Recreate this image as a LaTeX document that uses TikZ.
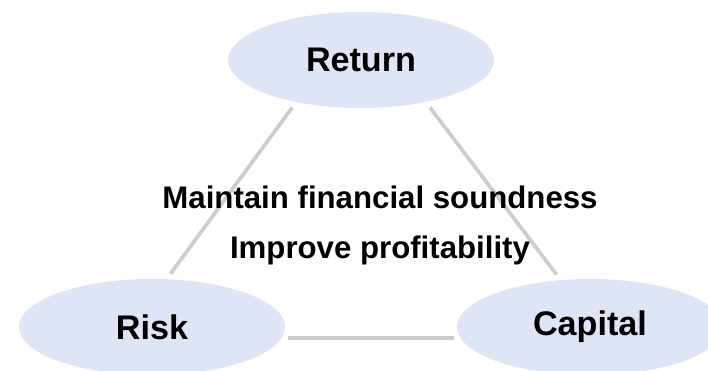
\documentclass[tikz,border=0pt]{standalone}
\usepackage{fontspec}
\setmainfont{Liberation Sans}
\usetikzlibrary{shapes.geometric}
\definecolor{bubble}{RGB}{223,229,244}
\definecolor{linkgray}{RGB}{204,204,204}

\begin{document}
\begin{tikzpicture}[x=0.75pt, y=-0.75pt,
            bub/.style={ellipse, fill=bubble, inner sep=0pt,
                minimum width=199.5pt, minimum height=72pt,
                font=\fontsize{25.6}{30}\selectfont\bfseries},
            link/.style={draw=linkgray, line width=2.8pt,
                shorten <=5pt, shorten >=5pt},
            msg/.style={anchor=base, font=\fontsize{23.4}{28}\selectfont\bfseries},
        ]
        \useasboundingbox (0,0) rectangle (708,371);

        \node[bub] (ret) at (361, 60)  {Return};
        \node[bub] (risk) at (152, 327) {Risk};
        \node[bub] (cap) at (590, 327) {Capital};

        \draw[link] (ret.213) -- (risk.73);
        \draw[link] (ret.327) -- (cap.122);
        \draw[link] (risk.355) -- (cap.185);

        \node[msg] (goal1) at (380, 208) {Maintain financial soundness};
        \node[msg] (goal2) at (380, 258) {Improve profitability};
    \end{tikzpicture}
\end{document}
